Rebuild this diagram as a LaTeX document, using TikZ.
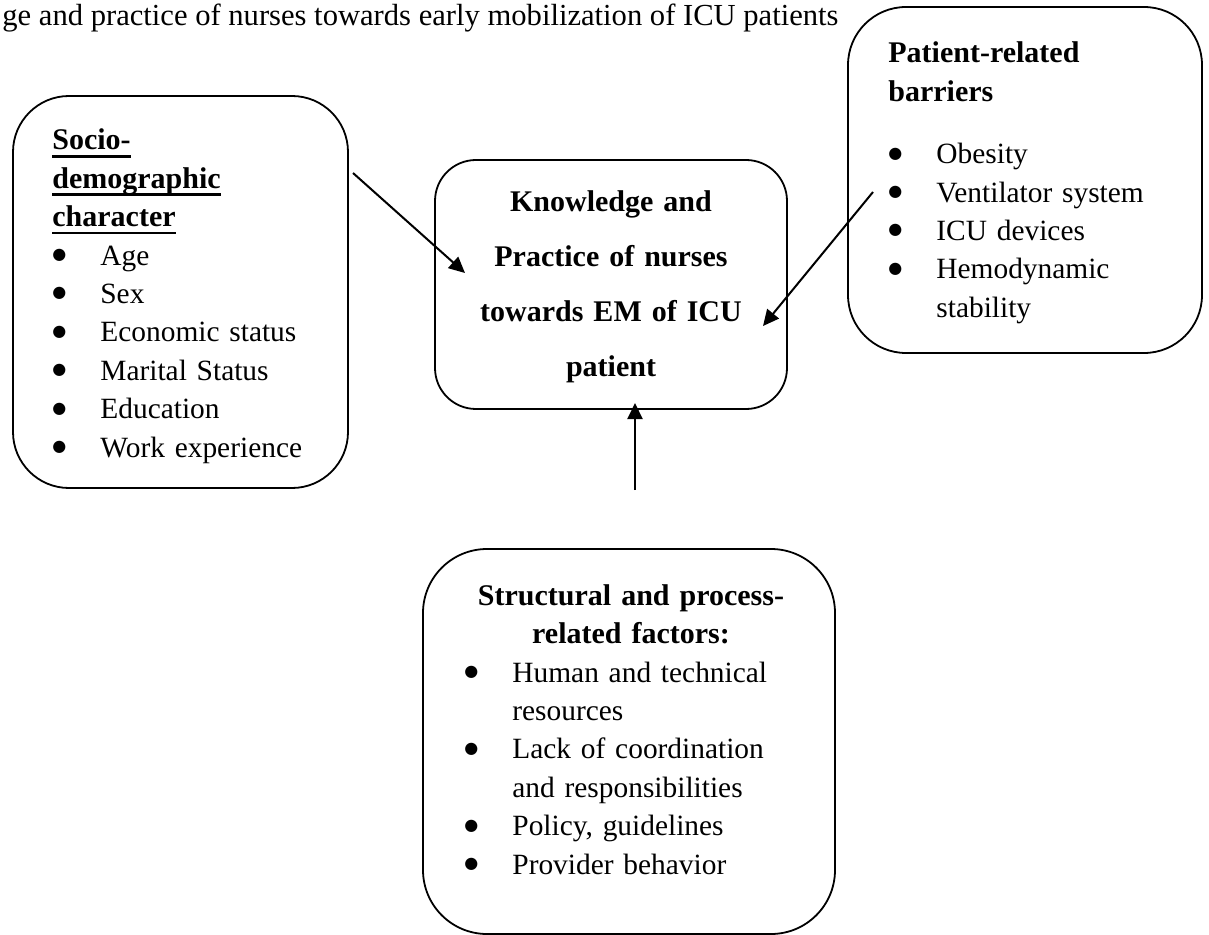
\documentclass[tikz,border=0pt]{standalone}
\usepackage{fontspec}
\setmainfont{Liberation Serif}
\newfontfamily\dejavu{DejaVu Sans}
\usetikzlibrary{arrows.meta}
\newcommand{\bul}{\makebox[24pt][l]{\raisebox{2.8pt}{\dejavu\fontsize{8}{8}\selectfont ●}}}
\newcommand{\nob}{\makebox[24pt]{}}
\newcommand{\ulin}[1]{\leavevmode\setbox0\hbox{#1}\rlap{\rule[-3.8pt]{\wd0}{1.4pt}}\box0}

\begin{document}
\begin{tikzpicture}[
			x=0.5pt, y=-0.5pt,
			box/.style={draw, line width=0.9pt, inner sep=0pt, outer sep=0pt},
			txt/.style={inner sep=0pt, anchor=base west, align=left, font=\fontsize{14.7}{19.2}\selectfont},
			head/.style={font=\fontsize{15}{27.5}\selectfont\bfseries},
			arr/.style={-{Triangle[length=8pt,width=7.5pt]}, line width=1pt}
			]
			\useasboundingbox (0,0) rectangle (1209,935);
			\node[txt, font=\fontsize{15.3}{19}\selectfont] (toptxt) at (2,26) {ge and practice of nurses towards early mobilization of ICU patients};
			% the four boxes
			\node[box, minimum width=167.5pt, minimum height=196pt, rounded corners=28pt] (socio) at (180.5,292) {};
			\node[box, minimum width=176pt, minimum height=124.5pt, rounded corners=20.5pt] (know) at (611,284.5) {};
			\node[box, minimum width=177pt, minimum height=173pt, rounded corners=29pt] (patient) at (1025,180) {};
			\node[box, minimum width=206pt, minimum height=192.5pt, rounded corners=32pt] (struct) at (629,741.5) {};
			% texts
			\node[txt, text width=150pt] (sociotxt) at (52,150) {\ulin{\bfseries\fontsize{15}{19.2}\selectfont Socio-}\\
				\ulin{\bfseries\fontsize{15}{19.2}\selectfont demographic}\\
				\ulin{\bfseries\fontsize{15}{19.2}\selectfont character}\\
				\bul Age\\ \bul Sex\\ \bul Economic status\\ \bul Marital Status\\ \bul Education\\ \bul Work experience};
			\node[txt, head, anchor=base, align=center, text width=170pt] (knowtxt) at (611,212) {Knowledge and\\ Practice of nurses\\ towards EM of ICU\\ patient};
			\node[txt, text width=160pt] (pattxt) at (888,63) {\textbf{\fontsize{15}{19.5}\selectfont Patient-related}\\
				\textbf{\fontsize{15}{19.5}\selectfont barriers}\\[12pt]
				\bul Obesity\\ \bul Ventilator system\\ \bul ICU devices\\ \bul Hemodynamic\\ \nob stability};
			\node[txt, head, anchor=base, align=center, text width=200pt, font=\fontsize{15}{19.2}\selectfont\bfseries] (structhead) at (631,605) {Structural and process-\\ related factors:};
			\node[txt, text width=190pt] (structtxt) at (464,682) {\bul Human and technical\\ \nob resources\\
				\bul Lack of coordination\\ \nob and responsibilities\\ \bul Policy, guidelines\\ \bul Provider behavior};
			% arrows
			\coordinate (a1s) at (353,173);
			\coordinate (a1e) at (465,273);
			\coordinate (a2s) at (873,192);
			\coordinate (a2e) at (763,326);
			\coordinate (a3s) at (635,490);
			\coordinate (a3e) at (635,403);
			\draw[arr] (a1s) -- (a1e);
			\draw[arr] (a2s) -- (a2e);
			\draw[arr] (a3s) -- (a3e);
		\end{tikzpicture}
\end{document}
